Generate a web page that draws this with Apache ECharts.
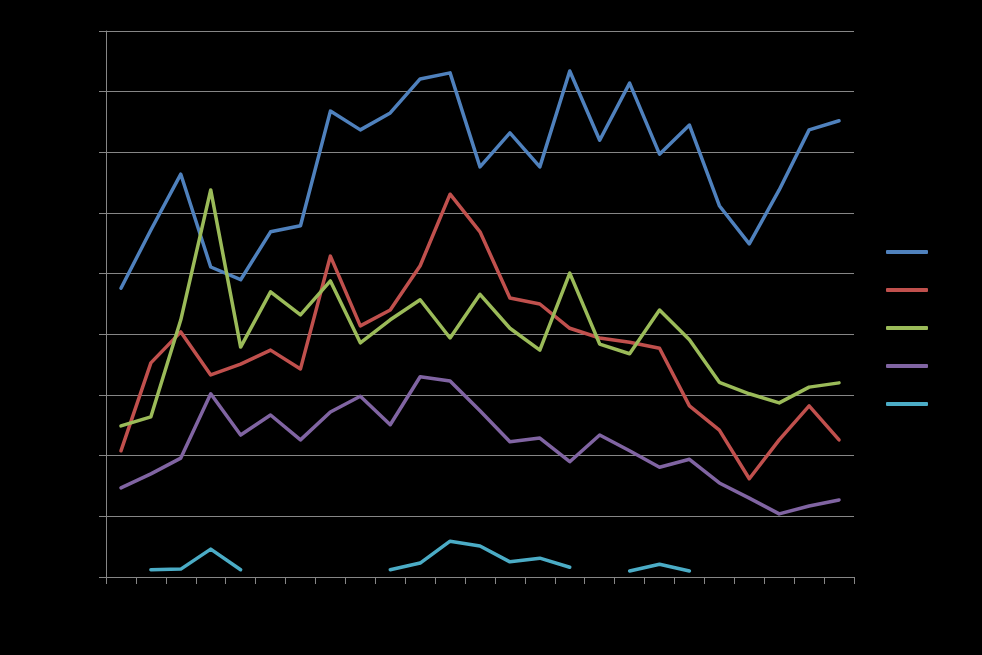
<!DOCTYPE html>
<html>
<head>
<meta charset="utf-8">
<script src="https://cdn.jsdelivr.net/npm/echarts@6/dist/echarts.min.js"></script>
<style>html,body{margin:0;padding:0;background:#000;}#c{width:982px;height:655px;}</style>
</head>
<body>
<div id="c"></div>
<script>
const categories = ['1','2','3','4','5','6','7','8','9','10','11','12','13','14','15','16','17','18','19','20','21','22','23','24','25'];
const series1 = [4.76,5.72,6.64,5.11,4.90,5.69,5.79,7.68,7.37,7.65,8.21,8.31,6.76,7.32,6.76,8.34,7.20,8.14,6.97,7.45,6.12,5.49,6.38,7.37,7.52];
const series2 = [2.08,3.53,4.04,3.33,3.51,3.74,3.43,5.29,4.14,4.40,5.13,6.31,5.69,4.60,4.50,4.10,3.94,3.87,3.77,2.82,2.42,1.62,2.26,2.82,2.26];
const series3 = [2.49,2.64,4.24,6.38,3.79,4.70,4.32,4.88,3.86,4.24,4.57,3.94,4.66,4.10,3.74,5.01,3.84,3.68,4.40,3.91,3.21,3.02,2.87,3.13,3.20];
const series4 = [1.47,1.70,1.96,3.02,2.34,2.67,2.26,2.72,2.98,2.51,3.30,3.23,2.74,2.23,2.29,1.90,2.34,2.08,1.81,1.94,1.55,1.30,1.04,1.17,1.27];
const series5 = [null,0.12,0.13,0.46,0.12,null,null,null,null,0.12,0.23,0.59,0.51,0.25,0.31,0.16,null,0.10,0.21,0.10,null,null,null,null,null];
const seriesNames = ['Series 1','Series 2','Series 3','Series 4','Series 5'];
const colors = ['#4F81BD','#C0504D','#9BBB59','#8064A2','#4BACC6'];
const yMin = 0, yMax = 9, yInterval = 1;

const allData = [series1, series2, series3, series4, series5];
const chart = echarts.init(document.getElementById('c'), null, {renderer:'canvas'});
const axisGray = '#868686';
chart.setOption({
  backgroundColor: '#000',
  animation: false,
  color: colors,
  grid: {left: 106, top: 31, right: 128, bottom: 78, containLabel: false},
  legend: {
    orient: 'vertical', left: 886, top: 245, padding: 0, itemWidth: 42, itemHeight: 4, itemGap: 24,
    icon: 'roundRect',
    textStyle: {color: '#000', fontSize: 12, lineHeight: 14},
    data: seriesNames
  },
  xAxis: {
    type: 'category', data: categories, boundaryGap: true,
    axisLine: {show: true, lineStyle: {color: axisGray, width: 1}},
    axisTick: {show: true, length: 7, inside: false, lineStyle: {color: axisGray}, alignWithLabel: false, interval: 0},
    axisLabel: {show: false},
    splitLine: {show: false}
  },
  yAxis: {
    type: 'value', min: yMin, max: yMax, interval: yInterval,
    axisLine: {show: true, lineStyle: {color: axisGray, width: 1}},
    axisTick: {show: true, length: 7, lineStyle: {color: axisGray}},
    axisLabel: {show: false},
    splitLine: {show: true, lineStyle: {color: axisGray, width: 1}}
  },
  series: allData.map((d, i) => ({
    name: seriesNames[i], type: 'line', data: d, symbol: 'none', smooth: false,
    connectNulls: false,
    lineStyle: {width: 3.5, color: colors[i], cap: 'round', join: 'round'},
    itemStyle: {color: colors[i]}
  }))
});
</script>
</body>
</html>
